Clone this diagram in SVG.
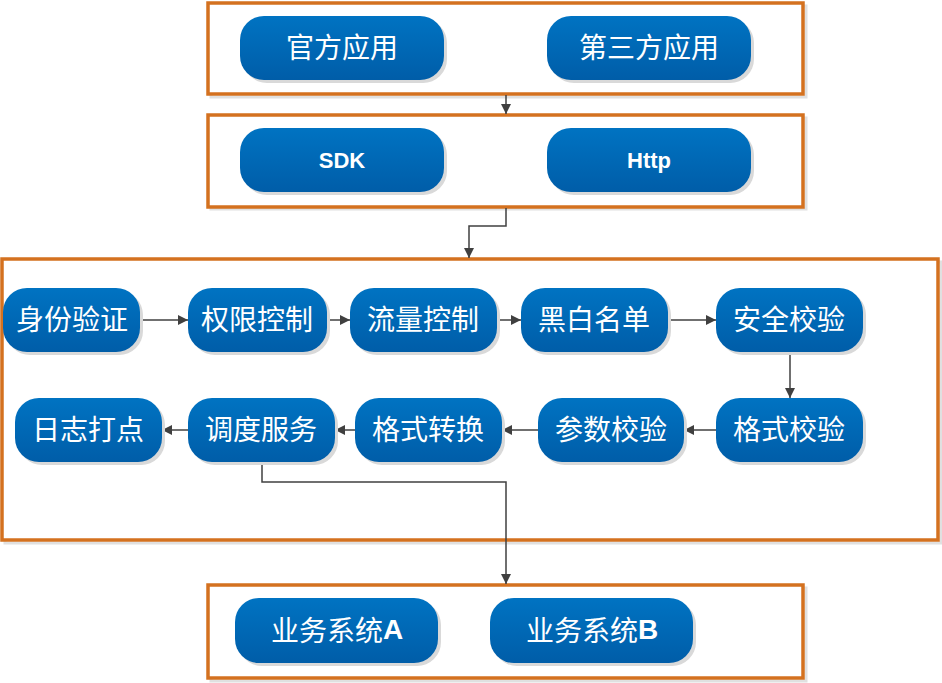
<svg xmlns="http://www.w3.org/2000/svg" width="942" height="683" viewBox="0 0 942 683">
<defs>
<linearGradient id="g" x1="0" y1="0" x2="0" y2="1">
<stop offset="0" stop-color="#0073C2"/>
<stop offset="1" stop-color="#005DA8"/>
</linearGradient>
<marker id="ah" viewBox="0 0 10 10" refX="10" refY="5" markerWidth="10" markerHeight="10" markerUnits="userSpaceOnUse" orient="auto">
<path d="M0,0 L10,5 L0,10 z" fill="#404040"/>
</marker>
</defs>
<style>
.frame{fill:#fff;stroke:#D4711F;stroke-width:3.5}
.fsh{fill:none;stroke:#E0E0E0;stroke-width:3}
.n{fill:url(#g)}
.sh{fill:#D9D9D9}
.t{fill:#fff;font-family:"Noto Sans CJK SC","Liberation Sans",sans-serif;font-size:28px;text-anchor:middle;dominant-baseline:central}
.b{font-family:"Liberation Sans","Noto Sans CJK SC",sans-serif;font-weight:bold;font-size:22px}
.c{fill:none;stroke:#404040;stroke-width:1.5;marker-end:url(#ah)}
</style>
<rect width="942" height="683" fill="#fff"/>
<g id="frames">
<rect class="fsh" x="211" y="6" width="595" height="91"/>
<rect class="frame" x="208" y="3" width="595" height="91"/>
<rect class="fsh" x="211" y="118" width="595" height="91"/>
<rect class="frame" x="208" y="115" width="595" height="92"/>
<rect class="fsh" x="5" y="262" width="936" height="281"/>
<rect class="frame" x="2" y="259" width="936" height="281"/>
<rect class="fsh" x="211" y="588" width="595" height="93"/>
<rect class="frame" x="208" y="585" width="595" height="93"/>
</g>
<g id="connectors">
<path class="c" d="M506,95 V114"/>
<path class="c" d="M506,208 V226 H469 V258"/>
<path class="c" d="M140,320 H188"/>
<path class="c" d="M327,320 H350"/>
<path class="c" d="M497,320 H521"/>
<path class="c" d="M668,320 H716"/>
<path class="c" d="M790,352 V398"/>
<path class="c" d="M716,430 H684"/>
<path class="c" d="M538,430 H502"/>
<path class="c" d="M355,430 H335"/>
<path class="c" d="M188,430 H162"/>
<path class="c" d="M262,462 V482 H506 V584"/>
</g>
<g id="n1"><rect class="sh" x="243" y="19" width="204" height="64" rx="24"/><rect class="n" x="240" y="16" width="204" height="64" rx="24"/><text class="t" x="342" y="46">官方应用</text></g>
<g id="n2"><rect class="sh" x="550" y="19" width="204" height="64" rx="24"/><rect class="n" x="547" y="16" width="204" height="64" rx="24"/><text class="t" x="649" y="46">第三方应用</text></g>
<g id="n3"><rect class="sh" x="243" y="131" width="204" height="64" rx="24"/><rect class="n" x="240" y="128" width="204" height="64" rx="24"/><text class="t b" x="342" y="160">SDK</text></g>
<g id="n4"><rect class="sh" x="550" y="131" width="204" height="64" rx="24"/><rect class="n" x="547" y="128" width="204" height="64" rx="24"/><text class="t b" x="649" y="160">Http</text></g>
<g id="n5"><rect class="sh" x="6" y="291" width="137" height="64" rx="24"/><rect class="n" x="3" y="288" width="137" height="64" rx="24"/><text class="t" x="72" y="318">身份验证</text></g>
<g id="n6"><rect class="sh" x="191" y="291" width="139" height="64" rx="24"/><rect class="n" x="188" y="288" width="139" height="64" rx="24"/><text class="t" x="257" y="318">权限控制</text></g>
<g id="n7"><rect class="sh" x="353" y="291" width="147" height="64" rx="24"/><rect class="n" x="350" y="288" width="147" height="64" rx="24"/><text class="t" x="423" y="318">流量控制</text></g>
<g id="n8"><rect class="sh" x="524" y="291" width="147" height="64" rx="24"/><rect class="n" x="521" y="288" width="147" height="64" rx="24"/><text class="t" x="594" y="318">黑白名单</text></g>
<g id="n9"><rect class="sh" x="719" y="291" width="147" height="64" rx="24"/><rect class="n" x="716" y="288" width="147" height="64" rx="24"/><text class="t" x="789" y="318">安全校验</text></g>
<g id="n10"><rect class="sh" x="18" y="401" width="147" height="64" rx="24"/><rect class="n" x="15" y="398" width="147" height="64" rx="24"/><text class="t" x="88" y="428">日志打点</text></g>
<g id="n11"><rect class="sh" x="191" y="401" width="147" height="64" rx="24"/><rect class="n" x="188" y="398" width="147" height="64" rx="24"/><text class="t" x="261" y="428">调度服务</text></g>
<g id="n12"><rect class="sh" x="358" y="401" width="147" height="64" rx="24"/><rect class="n" x="355" y="398" width="147" height="64" rx="24"/><text class="t" x="428" y="428">格式转换</text></g>
<g id="n13"><rect class="sh" x="541" y="401" width="146" height="64" rx="24"/><rect class="n" x="538" y="398" width="146" height="64" rx="24"/><text class="t" x="611" y="428">参数校验</text></g>
<g id="n14"><rect class="sh" x="719" y="401" width="147" height="64" rx="24"/><rect class="n" x="716" y="398" width="147" height="64" rx="24"/><text class="t" x="789" y="428">格式校验</text></g>
<g id="n15"><rect class="sh" x="238" y="601" width="203" height="65" rx="24"/><rect class="n" x="235" y="598" width="203" height="65" rx="24"/><text class="t" x="337" y="629">业务系统<tspan font-family="Liberation Sans" font-weight="bold">A</tspan></text></g>
<g id="n16"><rect class="sh" x="493" y="601" width="203" height="65" rx="24"/><rect class="n" x="490" y="598" width="203" height="65" rx="24"/><text class="t" x="592" y="629">业务系统<tspan font-family="Liberation Sans" font-weight="bold">B</tspan></text></g>
</svg>
